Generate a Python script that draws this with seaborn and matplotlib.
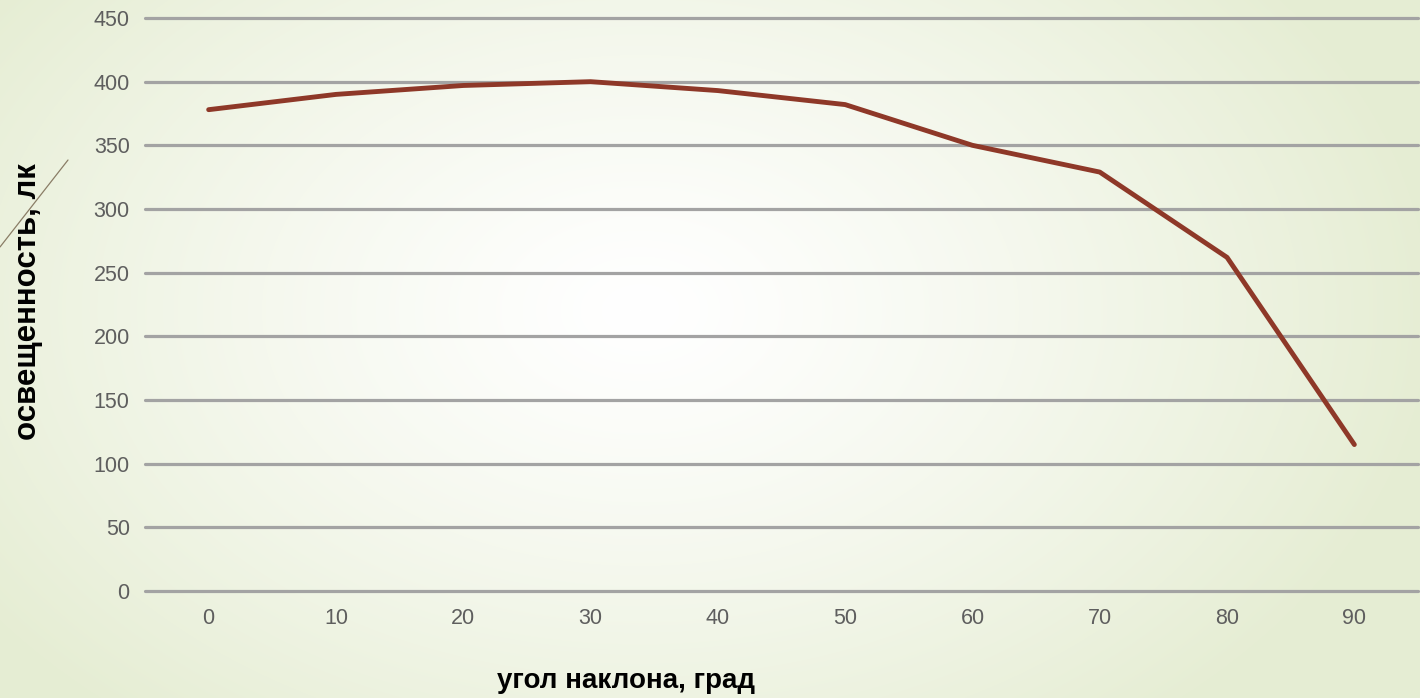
import numpy as np
import pandas as pd
import seaborn as sns
import matplotlib
matplotlib.use("Agg")
import matplotlib.pyplot as plt
from matplotlib.lines import Line2D

# ---- data ----
angles = ["0", "10", "20", "30", "40", "50", "60", "70", "80", "90"]
illuminance = [378, 390, 397, 400, 393, 382, 350, 329, 262, 115]
y_ticks = [0, 50, 100, 150, 200, 250, 300, 350, 400, 450]
x_label = "угол наклона, град"
y_label = "освещенность, лк"

df = pd.DataFrame({"angle": angles, "lux": illuminance})

sns.set_theme(style="white")
plt.rcParams["font.family"] = ["Liberation Sans", "DejaVu Sans"]

W, H = 1420, 698
fig = plt.figure(figsize=(W / 100, H / 100), dpi=100)

# background radial gradient (white centre, pale green edges)
bg = fig.add_axes([0, 0, 1, 1], zorder=0)
yy, xx = np.mgrid[0:H, 0:W]
cx, cy = 640, 310
r = np.sqrt(((xx - cx) / 800.0) ** 2 + ((yy - cy) / 540.0) ** 2)
r = np.clip(r, 0, 1) ** 1.25
c0 = np.array([1.0, 1.0, 1.0])
c1 = np.array([0.900, 0.930, 0.828])
img = c0[None, None, :] * (1 - r[..., None]) + c1[None, None, :] * r[..., None]
bg.imshow(img, aspect="auto", extent=[0, W, H, 0])
bg.set_axis_off()

# decorative thin diagonal line
fig.add_artist(Line2D([0 / W, 68 / W], [1 - 247 / H, 1 - 160 / H],
                      transform=fig.transFigure, color="#8a7d66", lw=0.9, zorder=5))

ax = fig.add_axes([145 / W, 1 - 591 / H, (1418 - 145) / W, (591 - 18) / H], zorder=1)
ax.patch.set_alpha(0)

for t in y_ticks:
    ax.axhline(t, color="#a3a3a3", lw=2.3, zorder=1, clip_on=False)

sns.lineplot(data=df, x="angle", y="lux", ax=ax, color="#8e3828", lw=3.5,
             sort=False, zorder=3)

ax.set_xlim(-0.5, 9.5)
ax.set_ylim(0, 450)
ax.set_yticks(y_ticks)
ax.set_yticklabels([str(t) for t in y_ticks])
for s in ax.spines.values():
    s.set_visible(False)
ax.tick_params(axis="both", length=0, labelsize=15.5, labelcolor="#5e5e5e")
ax.tick_params(axis="y", pad=11)
ax.tick_params(axis="x", pad=12)
ax.set_xlabel("")
ax.set_ylabel("")
ax.grid(False)

fig.text(626 / W, 1 - 688 / H, x_label, ha="center", va="baseline",
         fontsize=20, fontweight="bold", color="black")
fig.text(28 / W, 1 - 302 / H, y_label, ha="center", va="center", rotation=90,
         fontsize=22.5, fontweight="bold", color="black")

fig.savefig("out.png", dpi=100)
